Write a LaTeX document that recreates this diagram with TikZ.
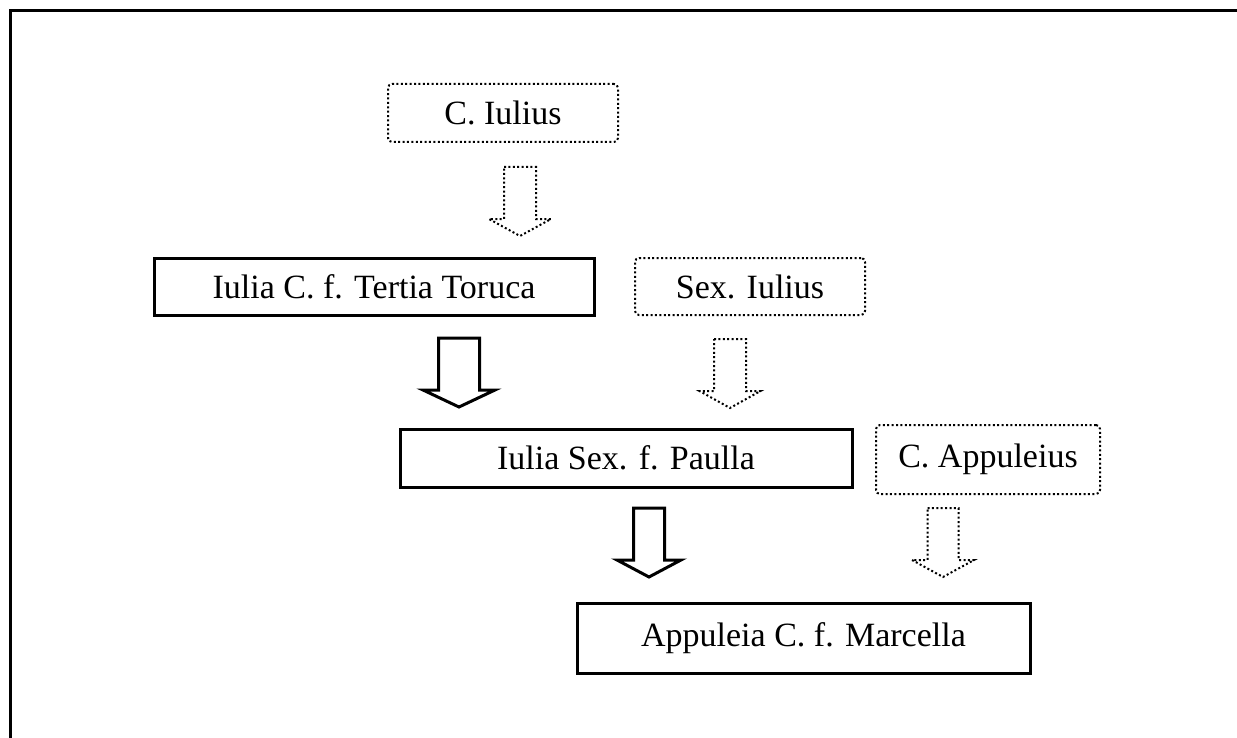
\documentclass[tikz,border=0pt]{standalone}
\usepackage{fontspec}
\setmainfont{Liberation Serif}
\tikzset{
  famsolid/.style={draw,line width=1.5pt,inner sep=0pt,font=\fontsize{17}{20}\selectfont},
  famdots/.style={draw,line width=1pt,dash pattern=on 1pt off 1.2pt,rounded corners=2pt,inner sep=0pt,font=\fontsize{17}{20}\selectfont},
  arrsolid/.style={line width=1.5pt,line join=miter},
  arrdots/.style={line width=1pt,dash pattern=on 1pt off 1.2pt},
}

\begin{document}
\begin{tikzpicture}[x=0.5pt,y=-0.5pt]
  \useasboundingbox (0,0) rectangle (1237,738);
  \draw[line width=1.5pt] (10,738) -- (10,11) -- (1237,11);
  % parents (dotted) and descendants (solid)
  \node[famdots,minimum width=115pt,minimum height=29pt] (ciulius) at (503,113) {C. Iulius};
  \node[famsolid,minimum width=220pt,minimum height=28.5pt] (toruca) at (374,286.5) {Iulia C. f. Tertia Toruca};
  \node[famdots,minimum width=115pt,minimum height=28.5pt] (sexiulius) at (750,286.5) {Sex. Iulius};
  \node[famsolid,minimum width=226pt,minimum height=29pt] (paulla) at (626,458) {Iulia Sex. f. Paulla};
  \node[famdots,minimum width=112pt,minimum height=34.5pt] (cappuleius) at (988,459.5) {C. Appuleius};
  \node[famsolid,minimum width=226.5pt,minimum height=35pt] (marcella) at (803.5,638) {Appuleia C. f. Marcella};
  % block arrows: centre x / top y / half shaft / half head / style
  \foreach \x/\t/\s/\h/\sty in {520/167/16/31/arrdots,459/338/20.5/36/arrsolid,730/339/16/30.5/arrdots,649/508/15.5/32/arrsolid,943/508/15.5/31/arrdots}{
    \draw[\sty] ({\x-\s},\t) -- ({\x+\s},\t) -- ({\x+\s},{\t+52}) -- ({\x+\h},{\t+52})
      -- (\x,{\t+69}) -- ({\x-\h},{\t+52}) -- ({\x-\s},{\t+52}) -- cycle;
  }
\end{tikzpicture}
\end{document}
